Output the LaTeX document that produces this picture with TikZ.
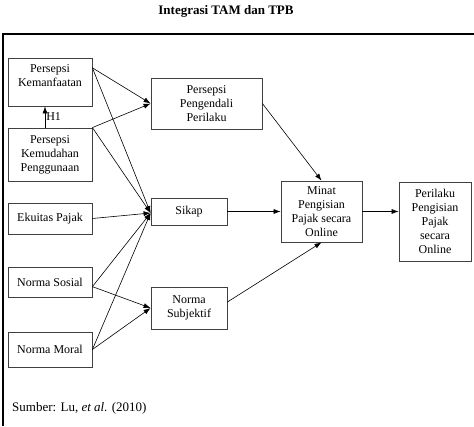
\documentclass[tikz,border=0pt]{standalone}
\usepackage{fontspec}
\setmainfont{Liberation Serif}
\usetikzlibrary{arrows.meta}
\usetikzlibrary{calc}

\begin{document}
\begin{tikzpicture}[x=1pt,y=-1pt,>/.tip={Latex[length=7pt,width=5pt]},
	box/.style={draw=black!75,line width=0.8pt,align=center,inner sep=0pt,font=\fontsize{12}{14}\selectfont},
	link/.style={->,line width=0.6pt}]
\useasboundingbox (0,0) rectangle (474,426);
\draw[line width=2pt] (3,426) -- (3,34) -- (474,34);
\draw (226,11) node (title) {\fontsize{13}{15}\selectfont\bfseries Integrasi TAM dan TPB};
% left column
\foreach \n/\y/\h/\t in {pkp/154.5/53/{Persepsi\\Kemudahan\\Penggunaan},ek/218.5/31/{Ekuitas Pajak},nso/282/30/{Norma Sosial},nmo/349.5/35/{Norma Moral}} {
	\draw (50,\y) node[box,minimum width=84pt,minimum height=\h pt] (\n) {\t};
}
\draw (50,82) node[box,minimum width=84pt,minimum height=48pt,text depth=12pt] (pk) {Persepsi\\Kemanfaatan};
% middle and right
\draw (206.5,103.5) node[box,minimum width=111pt,minimum height=51pt] (ppp) {Persepsi\\Pengendali\\Perilaku};
\draw (189,211.5) node[box,minimum width=76pt,minimum height=27pt] (sikap) {Sikap};
\draw (189,308) node[box,minimum width=76pt,minimum height=42pt] (nsub) {Norma\\Subjektif};
\draw (321.5,211.5) node[box,minimum width=81pt,minimum height=61pt] (minat) {Minat\\Pengisian\\Pajak secara\\Online};
\draw (435,221.5) node[box,minimum width=72pt,minimum height=79pt] (perilaku) {Perilaku\\Pengisian\\Pajak\\secara\\Online};
% start points
\coordinate (pk out) at ($(pk.north east)!0.21!(pk.south east)$);
\coordinate (nso out) at ($(nso.north east)!0.65!(nso.south east)$);
\coordinate (nsub out) at ($(nsub.north east)!0.36!(nsub.south east)$);
\coordinate (sikap in) at ($(sikap.west)+(0,1.5)$);
\coordinate (h1 from) at ($(pkp.north)+(-5,0)$);
% arrows
\foreach \s in {pk out,pkp.north east} \draw[link] (\s) -- (ppp.west);
\foreach \s in {pk out,pkp.north east,ek.east,nso out,nmo.east} \draw[link] (\s) -- (sikap in);
\foreach \s in {nso out,nmo.east} \draw[link] (\s) -- (nsub.west);
\draw[link] (ppp.east) -- (minat.north);
\draw[link] (sikap) -- (minat);
\draw[link] (nsub out) -- (minat.south);
\draw[link] (minat) -- (perilaku.west |- minat.east);
\draw[link] (h1 from) -- (h1 from |- pk.south) node[midway,right,font=\fontsize{12}{14}\selectfont,inner sep=1pt] (h1) {H1};
\draw (12,408) node[anchor=west,inner sep=0pt,font=\fontsize{13}{15}\selectfont] (src) {Sumber: Lu, \textit{et al.} (2010)};
\end{tikzpicture}
\end{document}
